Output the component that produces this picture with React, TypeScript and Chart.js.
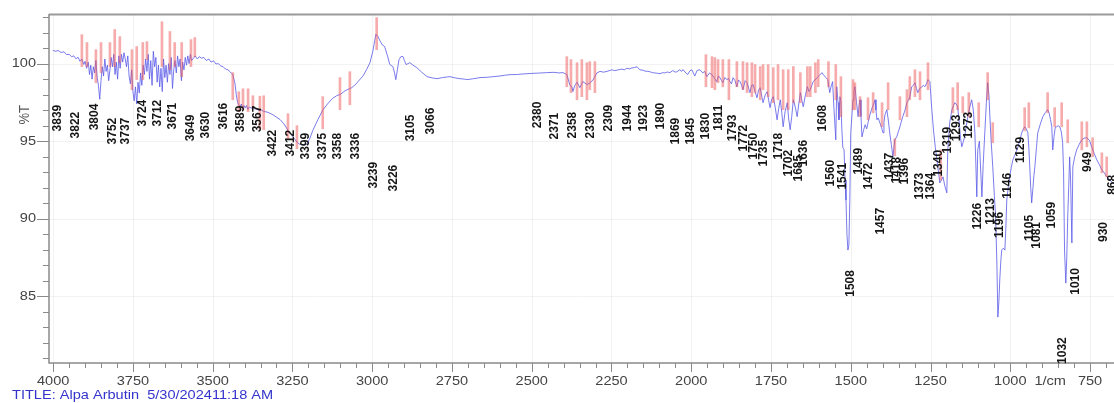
import React, { useEffect, useRef } from 'react';
import { Chart, registerables } from 'chart.js';

Chart.register(...registerables);

// [wavenumber (1/cm), %T]
const spectrum: [number, number][] = [
  [4001, 100.85], [3992, 100.8], [3984, 100.84], [3975, 100.72], [3966, 100.76], [3958, 100.58], [3950, 100.6],
  [3942, 100.45], [3935, 100.5], [3928, 100.3], [3922, 100.42], [3916, 100.15], [3910, 100.3], [3904, 99.95],
  [3900, 100.15], [3895, 99.7], [3890, 100.1], [3886, 99.3], [3882, 99.9], [3878, 99.0], [3874, 99.8], [3870, 99.4],
  [3866, 100.2], [3862, 99.1], [3858, 98.6], [3854, 97.7], [3850, 98.9], [3846, 99.8], [3842, 99.2], [3838, 100.3],
  [3834, 99.5], [3830, 99.9], [3826, 98.9], [3822, 99.6], [3818, 100.4], [3814, 99.8], [3810, 100.6], [3806, 99.3],
  [3802, 100.1], [3798, 99.0], [3794, 100.5], [3790, 99.7], [3786, 100.6], [3782, 100.1], [3778, 100.7], [3774, 100.3],
  [3770, 99.8], [3766, 100.5], [3762, 99.2], [3758, 98.7], [3754, 99.6], [3750, 98.2], [3746, 97.6], [3742, 98.5],
  [3738, 97.4], [3734, 98.8], [3730, 98.1], [3726, 99.4], [3722, 98.6], [3718, 99.9], [3714, 99.3], [3710, 100.3],
  [3706, 99.5], [3702, 100.6], [3698, 99.0], [3694, 100.2], [3690, 98.6], [3686, 100.8], [3682, 99.8], [3678, 100.4],
  [3674, 98.8], [3670, 99.9], [3666, 98.5], [3662, 99.7], [3658, 98.2], [3654, 100.3], [3650, 99.1], [3646, 99.9],
  [3642, 98.8], [3638, 100.0], [3634, 99.3], [3630, 100.4], [3626, 98.4], [3622, 99.6], [3618, 100.2], [3614, 99.4],
  [3610, 100.5], [3606, 99.8], [3602, 100.3], [3598, 98.9], [3594, 100.1], [3590, 99.6], [3586, 100.4], [3582, 99.9],
  [3578, 100.5], [3574, 100.0], [3570, 100.6], [3566, 100.2], [3560, 100.35], [3555, 100.5], [3548, 100.3],
  [3542, 100.45], [3535, 100.35], [3528, 100.4], [3520, 100.2], [3512, 100.3], [3505, 100.1], [3497, 100.18],
  [3490, 99.98], [3482, 100.0], [3475, 99.85], [3467, 99.8], [3460, 99.65], [3452, 99.6], [3444, 99.45], [3437, 99.3],
  [3430, 98.7], [3426, 98.0], [3422, 97.5], [3418, 97.35], [3414, 97.2], [3410, 97.4], [3406, 97.1], [3402, 97.3],
  [3398, 97.15], [3394, 97.3], [3390, 97.05], [3385, 97.2], [3380, 97.15], [3372, 97.1], [3364, 97.08], [3356, 97.0],
  [3348, 97.02], [3340, 96.92], [3330, 96.88], [3320, 96.8], [3311, 96.7], [3300, 96.55], [3289, 96.4], [3276, 96.1],
  [3264, 95.7], [3252, 95.4], [3242, 95.1], [3234, 94.9], [3227, 94.8], [3215, 94.78], [3205, 94.8], [3195, 95.2],
  [3186, 95.7], [3170, 96.4], [3155, 97.0], [3140, 97.4], [3125, 97.75], [3110, 97.95], [3101, 98.0], [3085, 98.25],
  [3070, 98.4], [3064, 98.45], [3050, 98.7], [3040, 98.95], [3029, 99.2], [3018, 99.6], [3007, 100.06], [2998, 100.8],
  [2992, 101.5], [2988, 101.9], [2982, 101.75], [2975, 101.45], [2968, 101.2], [2961, 101.1], [2952, 100.5],
  [2945, 99.95], [2938, 99.85], [2935, 99.8], [2930, 99.4], [2926, 98.97], [2921, 99.6], [2916, 100.26], [2910, 100.45],
  [2904, 100.47], [2899, 100.2], [2894, 99.94], [2888, 100.0], [2882, 100.06], [2872, 99.9], [2860, 99.74],
  [2845, 99.45], [2828, 99.16], [2812, 99.08], [2797, 99.03], [2780, 99.1], [2766, 99.14], [2756, 99.16], [2740, 99.08],
  [2725, 99.03], [2710, 99.0], [2703, 98.97], [2685, 99.02], [2662, 99.1], [2640, 99.12], [2622, 99.16], [2600, 99.2],
  [2585, 99.25], [2568, 99.29], [2545, 99.3], [2530, 99.33], [2515, 99.35], [2490, 99.38], [2470, 99.4], [2453, 99.42],
  [2430, 99.44], [2415, 99.4], [2402, 99.42], [2390, 99.3], [2380, 98.6], [2374, 98.5], [2371, 98.2], [2365, 98.6],
  [2358, 98.8], [2349, 98.45], [2340, 98.85], [2327, 98.65], [2318, 98.75], [2308, 98.95], [2296, 99.4], [2286, 99.5],
  [2275, 99.45], [2264, 99.5], [2249, 99.6], [2240, 99.55], [2233, 99.58], [2224, 99.62], [2217, 99.65], [2210, 99.6],
  [2202, 99.7], [2194, 99.66], [2186, 99.72], [2178, 99.75], [2170, 99.8], [2161, 99.6], [2152, 99.58], [2145, 99.52],
  [2136, 99.5], [2130, 99.48], [2122, 99.42], [2114, 99.4], [2106, 99.38], [2098, 99.35], [2090, 99.42], [2083, 99.4],
  [2075, 99.46], [2067, 99.42], [2058, 99.55], [2050, 99.45], [2045, 99.48], [2036, 99.6], [2030, 99.5], [2026, 99.62],
  [2017, 99.4], [2011, 99.3], [2004, 99.55], [1998, 99.6], [1989, 99.2], [1982, 99.55], [1973, 99.61], [1964, 99.4],
  [1958, 99.5], [1951, 99.16], [1943, 99.4], [1935, 99.29], [1927, 99.05], [1920, 98.84], [1915, 99.2], [1910, 99.1],
  [1905, 98.9], [1901, 98.77], [1895, 99.1], [1888, 98.97], [1883, 99.05], [1879, 98.84], [1874, 98.7], [1869, 99.1],
  [1863, 98.9], [1857, 98.51], [1852, 98.95], [1847, 98.84], [1842, 98.6], [1838, 98.32], [1831, 98.9], [1825, 98.77],
  [1820, 98.4], [1816, 98.13], [1811, 98.6], [1806, 98.64], [1800, 98.2], [1794, 97.8], [1789, 98.3], [1784, 98.45],
  [1779, 97.9], [1775, 97.48], [1768, 98.0], [1762, 98.19], [1757, 97.6], [1753, 97.16], [1748, 97.7], [1743, 97.87],
  [1737, 97.2], [1731, 96.38], [1726, 97.1], [1721, 97.67], [1716, 96.8], [1712, 95.93], [1706, 96.9], [1699, 97.48],
  [1695, 96.5], [1690, 95.74], [1685, 96.6], [1680, 97.67], [1674, 97.2], [1668, 96.58], [1663, 97.4], [1658, 98.13],
  [1653, 97.6], [1649, 97.22], [1642, 98.0], [1636, 98.51], [1631, 98.2], [1627, 98.32], [1622, 98.6], [1618, 98.84],
  [1612, 98.95], [1605, 99.1], [1598, 99.25], [1590, 99.42], [1586, 99.29], [1578, 99.1], [1572, 98.97], [1566, 98.13],
  [1562, 98.5], [1557, 98.84], [1553, 97.22], [1547, 95.09], [1544, 98.51], [1540, 97.5], [1537, 96.38], [1534, 97.87],
  [1531, 97.6], [1528, 95.74], [1525, 94.6], [1521, 94.44], [1518, 92.5], [1515, 91.2], [1512, 89.0], [1509, 87.98],
  [1506, 88.3], [1503, 91.2], [1500, 95.54], [1496, 96.8], [1493, 97.67], [1490, 98.2], [1487, 98.51], [1482, 97.5],
  [1477, 96.58], [1474, 97.3], [1471, 97.67], [1468, 96.6], [1465, 95.28], [1460, 95.7], [1455, 96.06], [1450, 95.8],
  [1446, 96.19], [1440, 96.7], [1433, 97.16], [1428, 97.4], [1424, 97.67], [1421, 97.0], [1418, 96.38], [1414, 96.5],
  [1409, 96.19], [1404, 95.9], [1399, 95.54], [1396, 96.2], [1393, 96.7], [1387, 97.03], [1382, 96.3], [1378, 95.54],
  [1373, 94.8], [1368, 93.99], [1362, 95.09], [1356, 95.28], [1351, 95.6], [1346, 95.93], [1341, 96.3], [1337, 96.58],
  [1330, 97.0], [1324, 97.48], [1318, 97.7], [1315, 97.87], [1309, 98.51], [1304, 98.6], [1299, 98.77], [1294, 98.4],
  [1290, 98.13], [1284, 98.4], [1277, 98.51], [1272, 98.6], [1268, 98.51], [1263, 98.7], [1258, 98.97], [1252, 98.84],
  [1246, 97.03], [1240, 95.54], [1235, 94.6], [1230, 93.8], [1225, 93.0], [1221, 92.31], [1216, 92.5], [1211, 92.7],
  [1205, 92.1], [1199, 91.67], [1196, 94.44], [1190, 96.2], [1183, 97.03], [1178, 97.3], [1174, 97.48], [1170, 97.4],
  [1165, 97.22], [1160, 96.2], [1156, 95.2], [1152, 94.64], [1147, 95.0], [1143, 95.28], [1138, 96.0], [1133, 96.58],
  [1127, 97.2], [1121, 97.67], [1116, 97.0], [1111, 95.54], [1108, 93.5], [1105, 91.41], [1102, 94.44], [1097, 95.0],
  [1093, 93.2], [1089, 91.41], [1085, 93.5], [1080, 95.54], [1075, 97.5], [1071, 98.77], [1067, 98.0], [1064, 96.58],
  [1060, 95.0], [1055, 93.35], [1050, 91.5], [1046, 90.12], [1042, 87.0], [1039, 83.66], [1036, 84.6], [1033, 86.05],
  [1030, 87.2], [1027, 87.98], [1022, 88.1], [1017, 87.98], [1014, 89.4], [1011, 91.21], [1006, 92.1], [1002, 92.7],
  [997, 93.3], [992, 93.8], [984, 94.2], [976, 94.64], [970, 95.1], [964, 95.54], [960, 95.75], [955, 95.93],
  [950, 95.8], [945, 95.54], [942, 94.6], [939, 93.35], [936, 92.0], [933, 91.02], [929, 92.0], [926, 92.8],
  [923, 93.35], [918, 94.6], [914, 95.54], [906, 96.1], [898, 96.58], [890, 96.85], [883, 97.03], [878, 96.8],
  [874, 96.4], [870, 95.93], [867, 94.44], [863, 95.3], [859, 95.9], [855, 95.93], [850, 96.0], [845, 95.93],
  [840, 95.6], [836, 94.9], [833, 93.0], [830, 87.98], [826, 85.85], [823, 87.5], [820, 90.12], [817, 92.0],
  [814, 93.99], [811, 92.5], [807, 88.44], [804, 93.35], [798, 94.0], [792, 94.44], [784, 94.8], [776, 95.09],
  [768, 95.2], [760, 95.22], [752, 95.05], [745, 94.64], [737, 94.2], [729, 93.8], [721, 93.5], [713, 93.15],
  [705, 92.95], [698, 92.7], [688, 92.5], [679, 92.31], [672, 92.2],
];

// red noise spikes: [wavenumber, low %T, high %T]
const spikes: [number, number, number][] = [
  [3910, 99.81, 101.87], [3894, 99.81, 101.36], [3866, 98.77, 100.9], [3850, 99.42, 101.36], [3822, 99.81, 101.36],
  [3807, 99.81, 102.2], [3791, 100.06, 101.74], [3753, 98.32, 100.9], [3738, 98.97, 101.1], [3719, 98.97, 101.36],
  [3706, 100.26, 101.42], [3659, 99.81, 102.7], [3634, 99.61, 102.07], [3619, 99.81, 101.36], [3597, 99.16, 101.36],
  [3568, 99.81, 101.55], [3556, 100.45, 101.68], [3437, 97.67, 99.42], [3418, 96.9, 98.19], [3405, 97.03, 98.38],
  [3389, 96.9, 98.38], [3374, 97.1, 97.93], [3352, 95.8, 97.9], [3340, 95.74, 97.93], [3264, 95.15, 96.77],
  [3236, 94.51, 96.0], [3155, 95.8, 97.87], [3101, 97.03, 99.1], [3070, 97.35, 99.48], [2986, 100.9, 102.97],
  [2390, 98.51, 100.45], [2377, 98.13, 100.26], [2358, 97.67, 100.06], [2343, 97.87, 100.26], [2327, 97.67, 100.06],
  [2318, 98.32, 100.13], [2302, 98.13, 100.13], [1954, 98.51, 100.58], [1935, 98.45, 100.45], [1926, 98.32, 100.39],
  [1916, 98.77, 100.26], [1901, 98.51, 100.26], [1882, 97.67, 100.26], [1857, 98.51, 100.13], [1838, 98.32, 100.13],
  [1825, 98.13, 100.06], [1810, 97.87, 100.06], [1800, 98.13, 99.94], [1784, 97.67, 99.81], [1775, 98.32, 99.94],
  [1759, 97.87, 99.94], [1743, 97.48, 99.74], [1728, 97.67, 99.94], [1712, 97.03, 99.61], [1696, 97.03, 99.61],
  [1680, 97.48, 99.81], [1658, 97.48, 99.42], [1636, 97.87, 99.81], [1627, 97.87, 99.81], [1611, 98.13, 100.06],
  [1602, 98.51, 100.26], [1570, 98.51, 100.13], [1547, 97.67, 99.94], [1531, 96.58, 99.16], [1493, 97.03, 98.97],
  [1487, 97.03, 98.77], [1471, 96.58, 97.87], [1446, 96.38, 97.8], [1430, 96.83, 98.13], [1402, 95.93, 97.48],
  [1383, 97.03, 98.77], [1362, 94.05, 95.15], [1346, 96.38, 97.87], [1324, 96.58, 98.32], [1315, 97.67, 99.16],
  [1299, 97.87, 99.61], [1283, 97.67, 99.48], [1258, 98.32, 100.06], [1218, 92.5, 94.44], [1180, 96.83, 98.45],
  [1165, 97.03, 98.77], [1149, 96.83, 97.87], [1130, 96.58, 98.13], [1099, 95.93, 97.48], [1071, 97.67, 99.42],
  [1055, 94.9, 96.2], [955, 95.67, 97.16], [942, 95.86, 97.48], [883, 96.83, 98.13], [861, 95.93, 97.16],
  [839, 95.93, 97.48], [820, 94.9, 96.38], [776, 94.44, 96.25], [760, 94.64, 96.25], [742, 94.0, 95.22],
  [713, 92.96, 94.25], [698, 92.7, 93.99],
];

// peak labels: [text, wavenumber where drawn, %T at the top end of the text]
const peakLabels: [string, number, number][] = [
  ['3839', 3988, 97.35], ['3822', 3932, 96.9], ['3804', 3872, 97.42], ['3752', 3816, 96.51], ['3737', 3775, 96.51],
  ['3724', 3722, 97.67], ['3712', 3675, 97.67], ['3671', 3628, 97.48], ['3649', 3571, 96.71], ['3630', 3524, 96.9],
  ['3616', 3468, 97.48], ['3589', 3415, 97.29], ['3567', 3361, 97.29], ['3422', 3314, 95.74], ['3412', 3258, 95.74],
  ['3399', 3211, 95.54], ['3375', 3158, 95.54], ['3358', 3108, 95.54], ['3336', 3054, 95.54], ['3239', 2998, 93.67],
  ['3226', 2935, 93.48], ['3105', 2882, 96.71], ['3066', 2819, 97.16], ['2380', 2484, 97.55], ['2371', 2428, 96.83],
  ['2358', 2374, 96.9], ['2330', 2318, 96.9], ['2309', 2261, 97.35], ['1944', 2201, 97.35], ['1923', 2151, 97.35],
  ['1890', 2098, 97.48], ['1869', 2051, 96.51], ['1845', 2004, 96.51], ['1830', 1957, 96.83], ['1811', 1916, 97.35],
  ['1793', 1872, 96.71], ['1772', 1838, 96.06], ['1750', 1806, 95.54], ['1735', 1775, 95.09], ['1718', 1728, 95.54],
  ['1702', 1697, 94.44], ['1685', 1665, 94.12], ['1636', 1650, 95.09], ['1608', 1590, 97.35], ['1560', 1565, 93.8],
  ['1541', 1528, 93.6], ['1508', 1503, 86.69], ['1489', 1478, 94.57], ['1472', 1446, 93.6], ['1457', 1409, 90.7],
  ['1437', 1378, 94.25], ['1418', 1356, 93.99], ['1396', 1331, 93.93], ['1373', 1284, 92.96], ['1364', 1252, 92.96],
  ['1340', 1227, 94.44], ['1319', 1196, 95.93], ['1293', 1168, 96.71], ['1273', 1133, 96.9], ['1226', 1102, 91.02],
  ['1213', 1064, 91.34], ['1196', 1033, 90.44], ['1146', 1008, 92.96], ['1129', 970, 95.28], ['1105', 939, 90.25],
  ['1081', 917, 89.79], ['1059', 872, 91.09], ['1032', 837, 82.36], ['1010', 796, 86.82], ['949', 758, 94.31],
  ['930', 708, 89.79], ['868', 680, 92.83],
];

const xMajorTicks = [4000, 3750, 3500, 3250, 3000, 2750, 2500, 2250, 2000, 1750, 1500, 1250, 1000, 750];
const yMajorTicks = [85, 90, 95, 100];
const xUnitLabel = '1/cm';
const xUnitAt = 875;
const yTitle = '%T';
const yTitleAt = 96.7;
const chartTitle = 'TITLE: Alpa Arbutin  5/30/202411:18 AM';

const FONT = '"Liberation Sans", Arial, sans-serif';
const SX = 1.12;

function drawText(
  ctx: CanvasRenderingContext2D,
  text: string,
  x: number,
  y: number,
  opts: { font: string; color: string; align: CanvasTextAlign; baseline: CanvasTextBaseline; rotate?: number }
) {
  ctx.save();
  ctx.translate(x, y);
  ctx.scale(SX, 1);
  if (opts.rotate) ctx.rotate(opts.rotate);
  ctx.font = opts.font;
  ctx.fillStyle = opts.color;
  ctx.textAlign = opts.align;
  ctx.textBaseline = opts.baseline;
  ctx.fillText(text, 0, 0);
  ctx.restore();
}

const irPlugin = {
  id: 'irDecor',
  beforeDatasetsDraw(chart: any) {
    const { ctx, chartArea, scales } = chart;
    const xs = scales.x;
    const ys = scales.y;
    ctx.save();
    ctx.strokeStyle = 'rgba(0,0,0,0.05)';
    ctx.lineWidth = 1;
    for (const v of xMajorTicks) {
      const px = Math.round(xs.getPixelForValue(v)) + 0.5;
      ctx.beginPath();
      ctx.moveTo(px, chartArea.top);
      ctx.lineTo(px, chartArea.bottom);
      ctx.stroke();
    }
    for (const v of yMajorTicks) {
      const py = Math.round(ys.getPixelForValue(v)) + 0.5;
      ctx.beginPath();
      ctx.moveTo(chartArea.left, py);
      ctx.lineTo(chartArea.right, py);
      ctx.stroke();
    }
    ctx.restore();
  },
  afterDatasetsDraw(chart: any) {
    const { ctx, chartArea, scales } = chart;
    const xs = scales.x;
    const ys = scales.y;
    ctx.save();
    // frame
    ctx.strokeStyle = '#9a9a9a';
    ctx.lineWidth = 2;
    ctx.beginPath();
    ctx.moveTo(chartArea.left, chartArea.top + 0.5);
    ctx.lineTo(chartArea.right, chartArea.top + 0.5);
    ctx.stroke();
    ctx.strokeStyle = '#8a8a8a';
    ctx.lineWidth = 1.5;
    ctx.beginPath();
    ctx.moveTo(chartArea.left, chartArea.top);
    ctx.lineTo(chartArea.left, chartArea.bottom);
    ctx.lineTo(chartArea.right, chartArea.bottom);
    ctx.stroke();

    // x ticks
    ctx.lineWidth = 1;
    for (let v = 700; v <= 4000; v += 50) {
      const px = Math.round(xs.getPixelForValue(v)) + 0.5;
      if (px < chartArea.left || px > chartArea.right) continue;
      const major = v % 250 === 0;
      ctx.beginPath();
      ctx.moveTo(px, chartArea.bottom);
      ctx.lineTo(px, chartArea.bottom + (major ? 9 : 5));
      ctx.stroke();
    }
    for (const v of xMajorTicks) {
      drawText(ctx, String(v), xs.getPixelForValue(v), chartArea.bottom + 18, {
        font: `13px ${FONT}`, color: '#444', align: 'center', baseline: 'middle',
      });
    }
    drawText(ctx, xUnitLabel, xs.getPixelForValue(xUnitAt), chartArea.bottom + 18, {
      font: `13px ${FONT}`, color: '#444', align: 'center', baseline: 'middle',
    });

    // y ticks
    for (let v = 81; v <= 103; v += 1) {
      const py = Math.round(ys.getPixelForValue(v)) + 0.5;
      const major = v % 5 === 0;
      ctx.beginPath();
      ctx.moveTo(chartArea.left - (major ? 12 : 6), py);
      ctx.lineTo(chartArea.left, py);
      ctx.stroke();
    }
    for (const v of yMajorTicks) {
      drawText(ctx, String(v), chartArea.left - 13, ys.getPixelForValue(v), {
        font: `13px ${FONT}`, color: '#444', align: 'right', baseline: 'middle',
      });
    }
    drawText(ctx, yTitle, 25, ys.getPixelForValue(yTitleAt), {
      font: `13px ${FONT}`, color: '#555', align: 'center', baseline: 'middle', rotate: -Math.PI / 2,
    });

    // peak labels
    for (const [text, wn, top] of peakLabels) {
      drawText(ctx, text, xs.getPixelForValue(wn), ys.getPixelForValue(top), {
        font: `bold 12px ${FONT}`, color: '#151515', align: 'right', baseline: 'middle', rotate: -Math.PI / 2,
      });
    }

    // bottom title
    drawText(ctx, chartTitle, 12, chart.height - 8, {
      font: `13px ${FONT}`, color: '#3434cc', align: 'left', baseline: 'middle',
    });
    ctx.restore();
  },
};

export default function App() {
  const canvasRef = useRef<HTMLCanvasElement>(null);

  useEffect(() => {
    if (!canvasRef.current) return;
    const chart = new Chart(canvasRef.current, {
      type: 'line',
      data: {
        datasets: [
          {
            type: 'bar',
            label: 'noise',
            data: spikes.map(([x, lo, hi]) => ({ x, y: [lo, hi] })) as any,
            backgroundColor: 'rgba(238,90,90,0.5)',
            borderWidth: 0,
            barThickness: 2,
            order: 0,
          } as any,
          {
            type: 'line',
            label: '%T',
            data: spectrum.map(([x, y]) => ({ x, y })),
            borderColor: 'rgba(90,90,232,0.8)',
            borderWidth: 1,
            pointRadius: 0,
            tension: 0,
            fill: false,
            order: 1,
          },
        ],
      },
      options: {
        animation: false,
        responsive: true,
        maintainAspectRatio: false,
        layout: { padding: { left: 49, top: 14, right: 0, bottom: 40 } },
        plugins: { legend: { display: false }, tooltip: { enabled: false } },
        events: [],
        scales: {
          x: { type: 'linear', reverse: true, min: 675, max: 4013, display: false, offset: false },
          y: { type: 'linear', min: 80.7, max: 103.2, display: false },
        },
      },
      plugins: [irPlugin],
    });
    return () => chart.destroy();
  }, []);

  return (
    <div style={{ position: 'fixed', left: 0, top: 0, width: 1114, height: 403, background: '#fff' }}>
      <canvas ref={canvasRef} />
    </div>
  );
}
